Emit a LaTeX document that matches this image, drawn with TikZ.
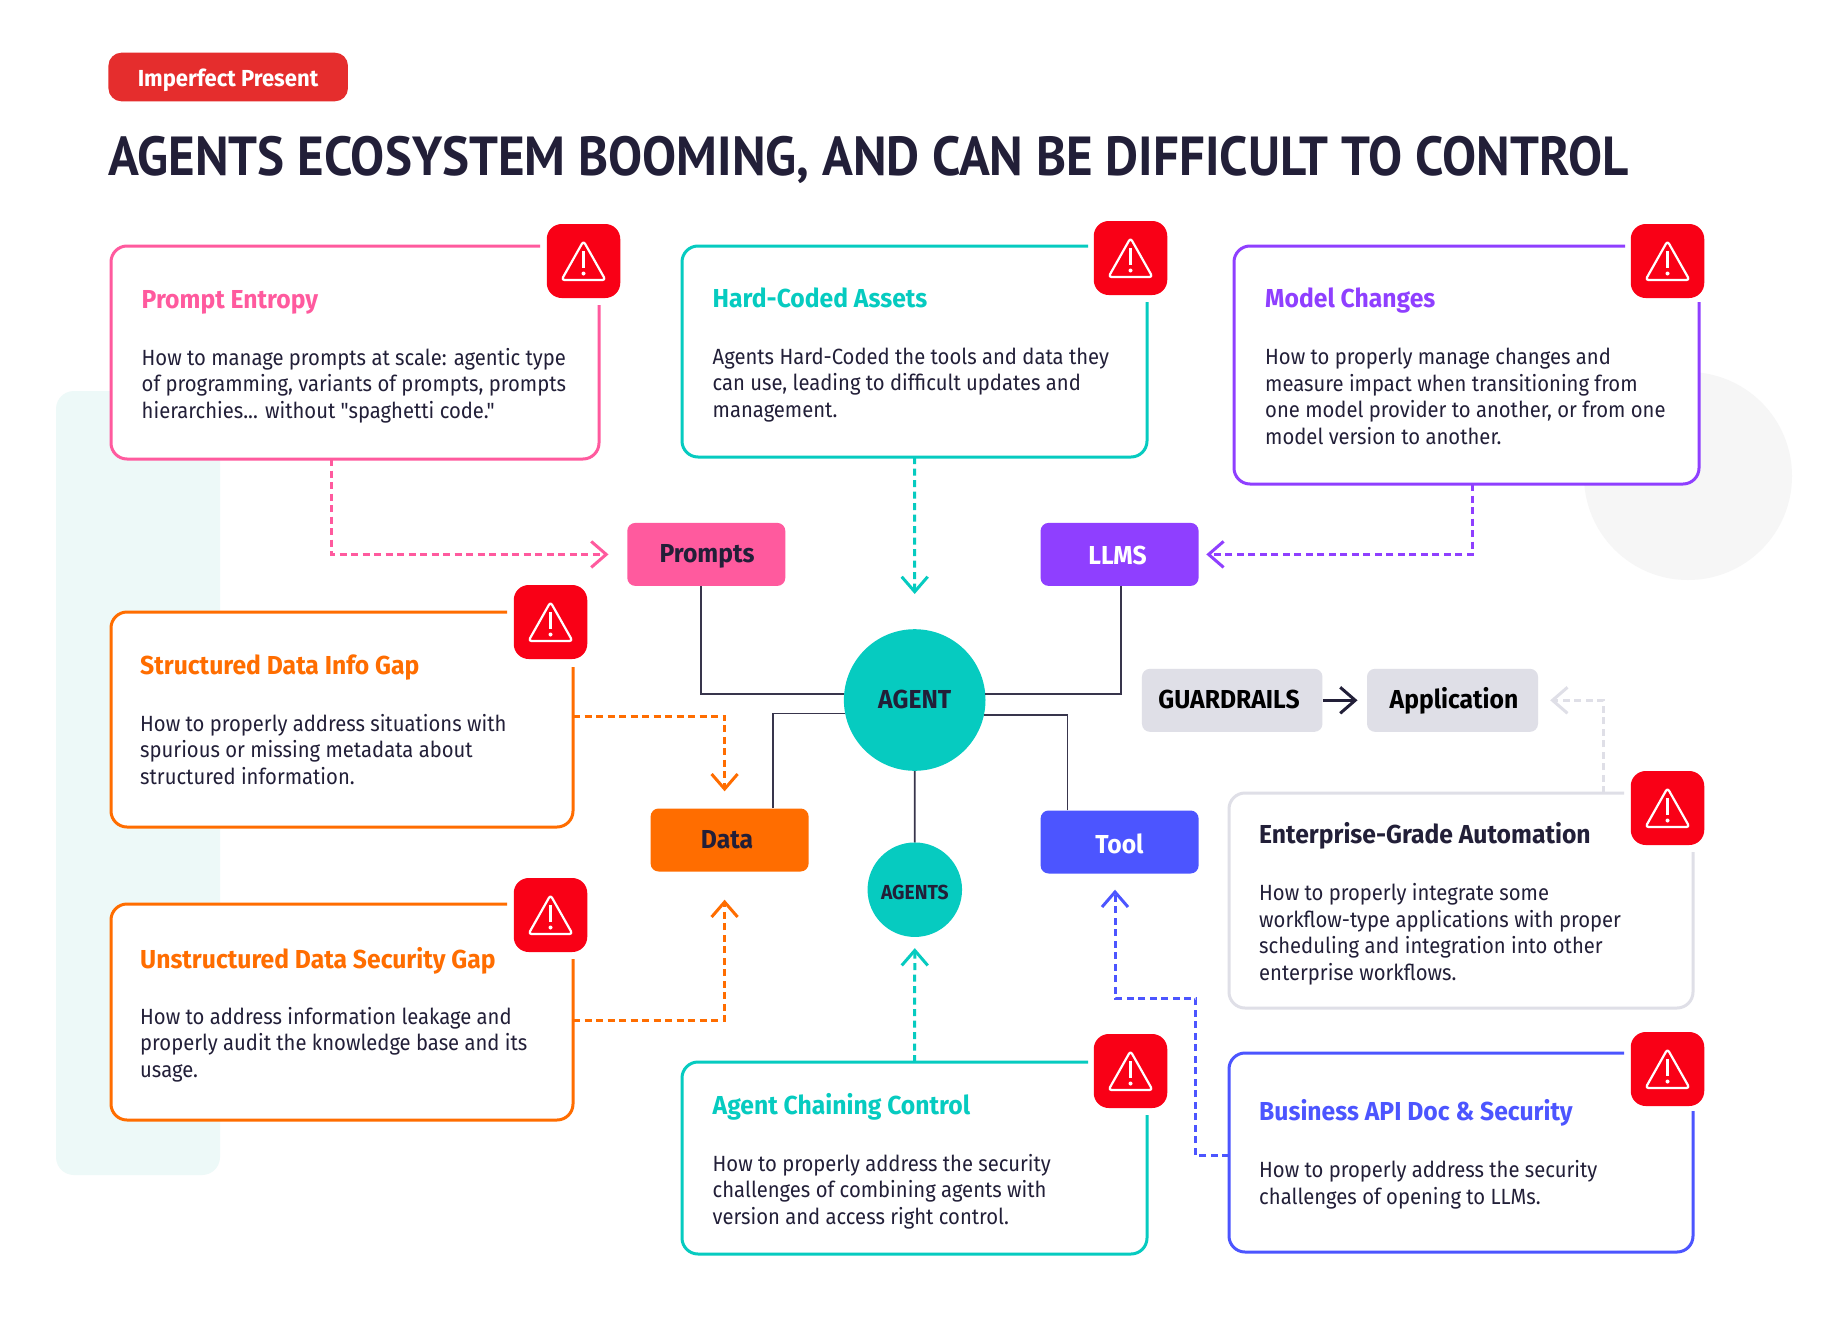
\documentclass[tikz,border=0pt]{standalone}
\usepackage{fontspec}
\usetikzlibrary{arrows.meta,calc}
\setmainfont[FakeStretch=0.92,Ligatures=TeXOff]{Fira Sans}
\newfontfamily\headf[FakeStretch=0.95]{Fira Sans}
\newfontfamily\titlef[FakeStretch=0.927]{PT Sans}
\definecolor{pinkc}{HTML}{FF5A9E}
\definecolor{tealc}{HTML}{06CBC0}
\definecolor{purplec}{HTML}{8F3FFF}
\definecolor{orangec}{HTML}{FF6D00}
\definecolor{bluec}{HTML}{4C55FF}
\definecolor{grayc}{HTML}{DFDFE7}
\definecolor{darkc}{HTML}{221F38}
\definecolor{redc}{HTML}{F90016}
\definecolor{badgec}{HTML}{E52D2D}
\definecolor{mintc}{HTML}{EDF9F8}
\definecolor{discc}{HTML}{F6F6F6}
\tikzset{
  framepath/.style={line width=3pt,rounded corners=16pt},
  cardnode/.style={inner sep=0pt,outer sep=0pt},
  iconbox/.style={fill=redc,rounded corners=15pt,minimum width=73.5pt,minimum height=74pt,inner sep=0pt},
  iconline/.style={draw=white,line width=2.2pt,line join=round},
  cardtitle/.style={anchor=base west,inner sep=0pt,font=\fontsize{26}{28}\headf\bfseries},
  cardbody/.style={anchor=base west,inner sep=0pt,align=left,text=darkc,font=\fontsize{22}{26.5}\selectfont},
  tagbox/.style={rounded corners=8pt,inner sep=0pt,minimum width=158pt,minimum height=63pt},
  tagtext/.style={anchor=base,inner sep=0pt,font=\fontsize{26}{28}\headf\bfseries},
  hubconn/.style={draw=darkc!90,line width=1.8pt},
  dashconn/.style={line width=3pt,dash pattern=on 7pt off 4.5pt,-{Straight Barb[length=15pt,width=26pt,line width=3pt]}},
}
\newcommand{\warnicon}[3]{%
  \node[iconbox] (#1) at (#2,#3) {};
  \begin{scope}[shift={(#2,#3)}]
    \draw[iconline,rounded corners=3pt] (0,-20) -- (22,19) -- (-22,19) -- cycle;
    \draw[iconline] (0,-10) -- (0,7);
    \fill[white] (0,12.5) circle (2pt);
  \end{scope}}
% name, L, T, R, B, colour, top end, right start
\newcommand{\card}[8]{%
  \node[cardnode,minimum width=#4pt-#2pt,minimum height=#5pt-#3pt] (#1) at ({(#2+#4)/2},{(#3+#5)/2}) {};
  \fill[white,rounded corners=16pt] (#2,#3) rectangle (#4,#5);
  \draw[framepath,draw=#6] (#7,#3) -- (#2,#3) -- (#2,#5) -- (#4,#5) -- (#4,#8);}
\begin{document}
\begin{tikzpicture}[x=1pt,y=-1pt]
\useasboundingbox (0,0) rectangle (1834,1344);
\fill[white] (0,0) rectangle (1834,1344);
\fill[mintc,rounded corners=18pt] (56,391) rectangle (220,1175);
\fill[discc] (1688,476) circle (104);

\node[fill=badgec,rounded corners=13pt,minimum width=239.5pt,minimum height=48.6pt,inner sep=0pt] (badge) at (228.2,77) {};
\node[anchor=base,inner sep=0pt,text=white,font=\fontsize{23.2}{25}\headf\bfseries] (badgetext) at (228,86) {Imperfect Present};
\node[anchor=base west,inner sep=0pt,text=darkc,font=\fontsize{55}{60}\titlef\bfseries] (headline) at (108,175.7) {AGENTS ECOSYSTEM BOOMING, AND CAN BE DIFFICULT TO CONTROL};

% cards
\card{b1}{111}{246}{599}{459}{pinkc}{540}{305}
\card{b2}{682}{246}{1147}{457}{tealc}{1088}{302}
\card{b3}{1234}{246}{1699}{484}{purplec}{1625}{302}
\card{b4}{111}{612}{573}{827}{orangec}{507}{667}
\card{b5}{111}{904}{573}{1120}{orangec}{507}{959}
\card{b6}{682}{1062}{1147}{1254}{tealc}{1088}{1115}
\card{b7}{1229}{793}{1693}{1008}{grayc}{1624}{852}
\card{b8}{1229}{1053}{1693}{1252}{bluec}{1624}{1111}

\warnicon{i1}{583.5}{261}
\warnicon{i2}{1130.5}{258}
\warnicon{i3}{1667.5}{261}
\warnicon{i4}{550.5}{622}
\warnicon{i5}{550.5}{915}
\warnicon{i6}{1130.5}{1071}
\warnicon{i7}{1667.5}{808}
\warnicon{i8}{1667.5}{1069}

% card texts (body nodes are placed by the baseline of their last line)
\node[cardtitle,text=pinkc] (t1) at (141.5,308) {Prompt Entropy};
\node[cardbody] (d1) at (141.5,418) {How to manage prompts at scale: agentic type\\of programming, variants of prompts, prompts\\hierarchies... without "spaghetti code."};
\node[cardtitle,text=tealc] (t2) at (712.5,307) {Hard-Coded Assets};
\node[cardbody] (d2) at (712.5,417) {Agents Hard-Coded the tools and data they\\can use, leading to difficult updates and\\management.};
\node[cardtitle,text=purplec] (t3) at (1265,307) {Model Changes};
\node[cardbody] (d3) at (1265,444) {How to properly manage changes and\\measure impact when transitioning from\\one model provider to another, or from one\\model version to another.};
\node[cardtitle,text=orangec] (t4) at (140,674) {Structured Data Info Gap};
\node[cardbody] (d4) at (140,784) {How to properly address situations with\\spurious or missing metadata about\\structured information.};
\node[cardtitle,text=orangec] (t5) at (140,968) {Unstructured Data Security Gap};
\node[cardbody] (d5) at (140,1077) {How to address information leakage and\\properly audit the knowledge base and its\\usage.};
\node[cardtitle,text=tealc] (t6) at (712.5,1114) {Agent Chaining Control};
\node[cardbody] (d6) at (712.5,1224) {How to properly address the security\\challenges of combining agents with\\version and access right control.};
\node[cardtitle,text=darkc] (t7) at (1259,843) {Enterprise-Grade Automation};
\node[cardbody] (d7) at (1259,980) {How to properly integrate some\\workflow-type applications with proper\\scheduling and integration into other\\enterprise workflows.};
\node[cardtitle,text=bluec] (t8) at (1259,1120) {Business API Doc \& Security};
\node[cardbody] (d8) at (1259,1204) {How to properly address the security\\challenges of opening to LLMs.};

% hub nodes
\node[fill=tealc,circle,inner sep=0pt,minimum size=141.6pt] (agent) at (914.7,700) {};
\node[tagtext,text=darkc] (agentlabel) at (914.7,708) {AGENT};
\node[fill=tealc,circle,inner sep=0pt,minimum size=94.5pt] (agents) at (914.8,889.7) {};
\node[anchor=base,inner sep=0pt,text=darkc,font=\fontsize{20.3}{22}\headf\bfseries] (agentslabel) at (914.8,899) {AGENTS};
\node[tagbox,fill=pinkc] (prompts) at (706.3,554.4) {};
\node[tagtext,text=darkc] (promptslabel) at (707,562) {Prompts};
\node[tagbox,fill=purplec] (llms) at (1119.6,554.4) {};
\node[tagtext,text=white] (llmslabel) at (1117.5,564) {LLMS};
\node[tagbox,fill=orangec] (data) at (729.6,840) {};
\node[tagtext,text=darkc] (datalabel) at (727,848) {Data};
\node[tagbox,fill=bluec] (tool) at (1119.6,842) {};
\node[tagtext,text=white] (toollabel) at (1119.4,853) {Tool};
\node[tagbox,fill=grayc,minimum width=180.5pt] (guard) at (1232.2,700.3) {};
\node[tagtext,text=black] (guardlabel) at (1229,708) {GUARDRAILS};
\node[tagbox,fill=grayc,minimum width=171pt] (app) at (1452.5,700.3) {};
\node[tagtext,text=black] (applabel) at (1454,708) {Application};

% solid connectors
\draw[hubconn] ([xshift=-5.3pt]prompts.south) |- (agent.175);
\draw[hubconn] ([xshift=1.4pt]llms.south) |- (agent.5);
\draw[hubconn] ([xshift=43pt]data.north) |- (agent.191.6);
\draw[hubconn] ([xshift=-52.2pt]tool.north) |- (agent.348.4);
\draw[hubconn] (agent.south) -- (agents.north);
\draw[line width=3pt,draw=darkc,-{Straight Barb[length=15pt,width=26pt,line width=3pt]}] (guard.east) -- ([xshift=-9.3pt]app.west);

% dashed connectors
\coordinate (bizbend) at (1195.5,998);
\draw[dashconn,draw=pinkc] ([xshift=-23.5pt]b1.south) |- ([xshift=-18.6pt]prompts.west);
\draw[dashconn,draw=tealc] (b2.south) -- ([yshift=35pt]agent.north);
\draw[dashconn,draw=purplec] ([xshift=6pt]b3.south) |- ([xshift=7.5pt]llms.east);
\draw[dashconn,draw=orangec] ([yshift=3.5pt]b4.east) -| ([xshift=-5pt,yshift=17pt]data.north);
\draw[dashconn,draw=orangec] ([yshift=-8pt]b5.east) -| ([xshift=-5pt,yshift=-28pt]data.south);
\draw[dashconn,draw=tealc] (b6.north) -- ([yshift=-11pt]agents.south);
\draw[dashconn,draw=bluec] ([yshift=-3pt]b8.west) -| (bizbend) -| ([xshift=-4.6pt,yshift=-16pt]tool.south);
\draw[dashconn,draw=grayc] ([xshift=142.4pt]b7.north) |- ([xshift=12pt]app.east);
\end{tikzpicture}
\end{document}
